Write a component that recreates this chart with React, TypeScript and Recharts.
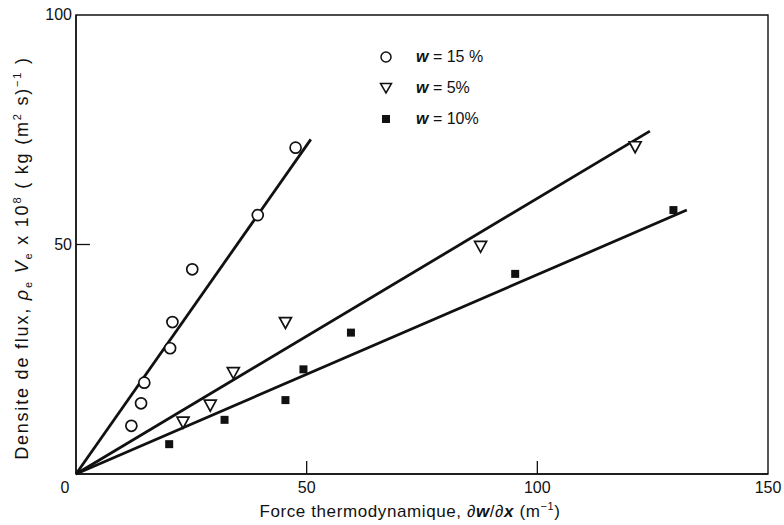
import { Legend, ReferenceArea, Scatter, ScatterChart, XAxis, YAxis } from 'recharts'

const xTicks = [0, 50, 100, 150]
const yTicks = [50, 100]

const w15 = [
  { x: 12.0, y: 10.5 },
  { x: 14.1, y: 15.4 },
  { x: 14.8, y: 19.9 },
  { x: 20.4, y: 27.4 },
  { x: 20.9, y: 33.1 },
  { x: 25.2, y: 44.6 },
  { x: 39.4, y: 56.4 },
  { x: 47.6, y: 71.1 },
]
const w5 = [
  { x: 23.2, y: 11.3 },
  { x: 29.1, y: 15.0 },
  { x: 34.1, y: 22.1 },
  { x: 45.4, y: 33.0 },
  { x: 87.7, y: 49.6 },
  { x: 121.2, y: 71.3 },
]
const w10 = [
  { x: 20.2, y: 6.5 },
  { x: 32.2, y: 11.8 },
  { x: 45.4, y: 16.1 },
  { x: 49.3, y: 22.8 },
  { x: 59.6, y: 30.8 },
  { x: 95.2, y: 43.6 },
  { x: 129.5, y: 57.5 },
]

// fitted straight lines through the origin (end points)
const fit15 = [
  { x: 0, y: 0 },
  { x: 50.9, y: 72.9 },
]
const fit5 = [
  { x: 0, y: 0 },
  { x: 124.4, y: 74.7 },
]
const fit10 = [
  { x: 0, y: 0 },
  { x: 132.4, y: 57.5 },
]

const legendLabels = ['= 15 %', '= 5%', '= 10%']

const FONT = '"Liberation Sans", Arial, sans-serif'
const INK = '#111'

const OpenCircle = (p: any) => (
  <circle cx={p.cx} cy={p.cy} r={5.5} fill="#fff" stroke={INK} strokeWidth={1.7} />
)
const DownTriangle = (p: any) => (
  <polygon
    points={`${p.cx - 6},${p.cy - 5} ${p.cx + 6},${p.cy - 5} ${p.cx},${p.cy + 6}`}
    fill="#fff"
    stroke={INK}
    strokeWidth={1.7}
  />
)
const FilledSquare = (p: any) => (
  <rect x={p.cx - 4} y={p.cy - 4} width={8} height={8} fill={INK} />
)
const NoDot = () => <g />

const XTick = (p: any) => {
  const v = p.payload.value
  return (
    <g>
      {v > 0 && v < 150 && (
        <line x1={p.x} x2={p.x} y1={p.y} y2={p.y - 13} stroke={INK} strokeWidth={1.3} />
      )}
      <text
        x={v === 0 ? p.x - 11 : p.x}
        y={p.y + 19}
        textAnchor="middle"
        fontSize={16}
        fontFamily={FONT}
        fill={INK}
      >
        {v}
      </text>
    </g>
  )
}

const YTick = (p: any) => {
  const v = p.payload.value
  return (
    <g>
      {v < 100 && (
        <line x1={p.x} x2={p.x + 14} y1={p.y} y2={p.y} stroke={INK} strokeWidth={1.3} />
      )}
      <text
        x={p.x - 4}
        y={p.y + 5}
        textAnchor="end"
        fontSize={16}
        fontFamily={FONT}
        fill={INK}
      >
        {v}
      </text>
    </g>
  )
}

const YTitle = () => (
  <text
    transform="translate(28, 258) rotate(-90)"
    textAnchor="middle"
    fontSize={18}
    letterSpacing={1.8}
    fontFamily={FONT}
    fill={INK}
  >
    Densite de flux,{' '}
    <tspan fontStyle="italic">ρ</tspan>
    <tspan dy={4} fontSize={11}>e</tspan>
    <tspan dy={-4}> </tspan>
    <tspan fontStyle="italic">V</tspan>
    <tspan dy={4} fontSize={11}>e</tspan>
    <tspan dy={-4}> x 10</tspan>
    <tspan dy={-7} fontSize={11}>8</tspan>
    <tspan dy={7}> ( kg (m</tspan>
    <tspan dy={-7} fontSize={11}>2</tspan>
    <tspan dy={7}> s)</tspan>
    <tspan dy={-7} fontSize={11}>−1</tspan>
    <tspan dy={7}> )</tspan>
  </text>
)

const XTitle = () => (
  <text
    x={410}
    y={517}
    textAnchor="middle"
    fontSize={17}
    letterSpacing={0.6}
    fontFamily={FONT}
    fill={INK}
  >
    Force thermodynamique, ∂<tspan fontStyle="italic" fontWeight="bold">w</tspan>/∂
    <tspan fontStyle="italic" fontWeight="bold">x</tspan> (m
    <tspan dy={-7} fontSize={11}>−1</tspan>
    <tspan dy={7}>)</tspan>
  </text>
)

const legendIcons = [
  <circle cx={7} cy={7} r={5} fill="#fff" stroke={INK} strokeWidth={1.5} />,
  <polygon points="1.5,2.5 12.5,2.5 7,12" fill="#fff" stroke={INK} strokeWidth={1.5} />,
  <rect x={3} y={3} width={8} height={8} fill={INK} />,
]

const LegendBox = () => (
  <div style={{ fontFamily: FONT, fontSize: 16, color: INK }}>
    {legendLabels.map((label, i) => (
      <div key={label} style={{ display: 'flex', alignItems: 'center', height: 31 }}>
        <svg width={14} height={14} style={{ marginRight: 23 }}>
          {legendIcons[i]}
        </svg>
        <span>
          <i style={{ fontWeight: 'bold' }}>w</i> {label}
        </span>
      </div>
    ))}
  </div>
)

export default function App() {
  return (
    <div style={{ width: 784, height: 525, background: '#fff' }}>
      <style>{'body{margin:0}'}</style>
      <ScatterChart width={784} height={525} margin={{ top: 15, right: 16, bottom: 21, left: 16 }}>
        <XAxis
          type="number"
          dataKey="x"
          domain={[0, 150]}
          ticks={xTicks}
          height={30}
          tickSize={0}
          tickMargin={0}
          tickLine={false}
          axisLine={{ stroke: INK, strokeWidth: 1.4 }}
          tick={XTick}
          label={XTitle}
        />
        <YAxis
          type="number"
          dataKey="y"
          domain={[0, 100]}
          ticks={yTicks}
          width={60}
          tickSize={0}
          tickMargin={0}
          tickLine={false}
          axisLine={{ stroke: INK, strokeWidth: 1.4 }}
          tick={YTick}
          label={YTitle}
        />
        <ReferenceArea
          x1={0}
          x2={150}
          y1={0}
          y2={100}
          fill="none"
          stroke={INK}
          strokeWidth={1.4}
          ifOverflow="visible"
        />
        <Legend
          layout="vertical"
          align="center"
          verticalAlign="middle"
          wrapperStyle={{ top: 41, left: 379, width: 'auto' }}
          content={LegendBox}
        />
        <Scatter data={fit15} line={{ stroke: INK, strokeWidth: 2.8 }} shape={NoDot} legendType="none" isAnimationActive={false} />
        <Scatter data={fit5} line={{ stroke: INK, strokeWidth: 2.8 }} shape={NoDot} legendType="none" isAnimationActive={false} />
        <Scatter data={fit10} line={{ stroke: INK, strokeWidth: 2.8 }} shape={NoDot} legendType="none" isAnimationActive={false} />
        <Scatter name="w = 15 %" data={w15} shape={OpenCircle} isAnimationActive={false} />
        <Scatter name="w = 5%" data={w5} shape={DownTriangle} isAnimationActive={false} />
        <Scatter name="w = 10%" data={w10} shape={FilledSquare} isAnimationActive={false} />
      </ScatterChart>
    </div>
  )
}
